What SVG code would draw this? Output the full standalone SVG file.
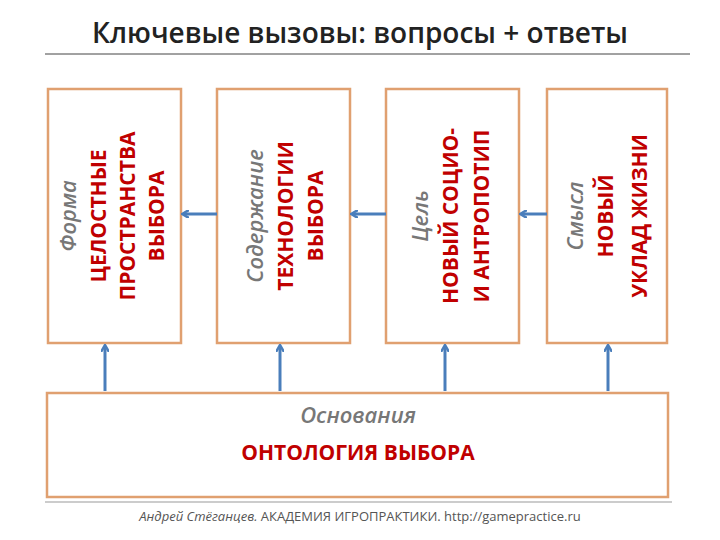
<svg xmlns="http://www.w3.org/2000/svg" width="720" height="540" viewBox="0 0 720 540">
<defs>
<marker id="ah" markerWidth="8" markerHeight="8" refX="6" refY="4" orient="auto" markerUnits="userSpaceOnUse"><path d="M0,0 L7,4 L0,8" fill="none" stroke="#4a7ebb" stroke-width="2.5"/></marker>
<style>
.box{fill:#fff;stroke:#e0a070;stroke-width:2.5}
.g{font-family:"Open Sans",sans-serif;font-style:italic;font-weight:600;fill:#777;font-size:22px;text-anchor:middle}
.r{font-family:"Open Sans",sans-serif;font-weight:bold;fill:#c00000;font-size:21px;text-anchor:middle}
.c{stroke:#4a7ebb;stroke-width:3;fill:none;marker-end:url(#ah)}
</style>
</defs>
<rect width="720" height="540" fill="#fff"/>
<text x="360" y="43" font-family="Open Sans,sans-serif" font-weight="600" font-size="28" text-anchor="middle" fill="#222">Ключевые вызовы: вопросы + ответы</text>
<line x1="45" y1="54" x2="690" y2="54" stroke="#444" stroke-width="1"/>
<g id="n1"><rect class="box" x="48" y="89" width="133" height="254"/>
<g transform="translate(0,216) rotate(-90)"><text class="g" x="0" y="76">Форма</text><text class="r" x="0" y="106">ЦЕЛОСТНЫЕ</text><text class="r" x="0" y="135">ПРОСТРАНСТВА</text><text class="r" x="0" y="164">ВЫБОРА</text></g></g>
<g id="n2"><rect class="box" x="217" y="89" width="133" height="254"/>
<g transform="translate(0,216) rotate(-90)"><text class="g" x="0" y="263">Содержание</text><text class="r" x="0" y="293">ТЕХНОЛОГИИ</text><text class="r" x="0" y="323">ВЫБОРА</text></g></g>
<g id="n3"><rect class="box" x="386" y="89" width="133" height="254"/>
<g transform="translate(0,216) rotate(-90)"><text class="g" x="0" y="428">Цель</text><text class="r" x="0" y="458">НОВЫЙ СОЦИО-</text><text class="r" x="0" y="489">И АНТРОПОТИП</text></g></g>
<g id="n4"><rect class="box" x="547" y="89" width="120" height="254"/>
<g transform="translate(0,216) rotate(-90)"><text class="g" x="0" y="583">Смысл</text><text class="r" x="0" y="613">НОВЫЙ</text><text class="r" x="0" y="647">УКЛАД ЖИЗНИ</text></g></g>
<g id="n5"><rect class="box" x="47" y="393" width="621" height="104"/>
<text class="g" x="358" y="423">Основания</text><text class="r" x="358" y="460">ОНТОЛОГИЯ ВЫБОРА</text></g>
<g id="connectors">
<path class="c" d="M217,214 H183"/>
<path class="c" d="M386,214 H352"/>
<path class="c" d="M547,214 H521"/>
<path class="c" d="M105,391 V346"/>
<path class="c" d="M280,391 V346"/>
<path class="c" d="M445,391 V346"/>
<path class="c" d="M608,391 V346"/>
</g>
<line x1="45" y1="502" x2="672" y2="502" stroke="#999" stroke-width="1"/>
<text x="360" y="521" font-family="Open Sans,sans-serif" font-size="13" text-anchor="middle" fill="#555"><tspan font-style="italic">Андрей Стёганцев.</tspan>  АКАДЕМИЯ ИГРОПРАКТИКИ.  http://gamepractice.ru</text>
</svg>
